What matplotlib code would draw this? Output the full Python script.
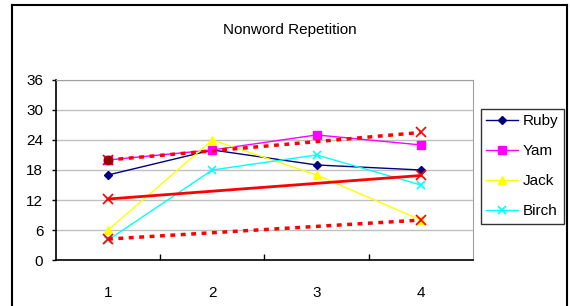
import matplotlib.pyplot as plt
from matplotlib.lines import Line2D

plt.rcParams['font.family'] = ['Liberation Sans', 'DejaVu Sans']

sessions = [1, 2, 3, 4]
ruby = [17, 22, 19, 18]
yam = [20, 22, 25, 23]
jack = [6, 24, 17, 8]
birch = [4, 18, 21, 15]

trend_x = [1, 4]
trend_mid = [12.2, 16.9]
trend_hi = [20, 25.5]
trend_lo = [4.2, 8]

fig = plt.figure(figsize=(5.7, 3.06), dpi=100)
ax = fig.add_axes([0.098, 0.150, 0.732, 0.589])

ax.plot(sessions, ruby, color='#000080', lw=1, marker='D', ms=4.5, label='Ruby')
ax.plot(sessions, yam, color='#FF00FF', lw=1, marker='s', ms=5.5, label='Yam')
ax.plot(sessions, jack, color='#FFFF00', lw=1, marker='^', ms=6, label='Jack')
ax.plot(sessions, birch, color='#00FFFF', lw=1, marker='x', ms=6, mew=1.2, label='Birch')

ax.plot(trend_x, trend_mid, color='#FF0000', lw=2, marker='x', ms=7, mew=1.2)
ax.plot(trend_x, trend_hi, color='#FF0000', lw=2.5, ls=(0, (1.4, 1.6)), marker='x', ms=7, mew=1.2)
ax.plot(trend_x[:1], trend_hi[:1], 'o', color='#990000', ms=6)
ax.plot(trend_x, trend_lo, color='#FF0000', lw=2.5, ls=(0, (1.4, 1.6)), marker='x', ms=7, mew=1.2)

ax.set_xlim(0.5, 4.5)
ax.set_ylim(0, 36)
ax.set_yticks(range(0, 37, 6))
ax.set_xticks(sessions)
ax.set_xticks([1.5, 2.5, 3.5], minor=True)
ax.tick_params(axis='x', which='major', length=0, pad=19, labelsize=11)
ax.tick_params(axis='x', which='minor', direction='in', length=4, width=1)
ax.tick_params(axis='y', length=3, width=1, labelsize=11, pad=6)
ax.yaxis.grid(True, color='#C0C0C0', lw=1)
ax.set_axisbelow(True)
for side in ['top', 'right']:
    ax.spines[side].set_color('#A0A0A0')
for side in ['left', 'bottom']:
    ax.spines[side].set_color('black')
    ax.spines[side].set_linewidth(1.2)

fig.text(0.509, 0.902, 'Nonword Repetition', ha='center', va='center', fontsize=11)

leg = ax.legend(loc='upper left', bbox_to_anchor=(1.019, 0.839), fontsize=11,
                frameon=True, fancybox=False, edgecolor='black',
                borderpad=0.35, labelspacing=1.05, handlelength=2.1, handletextpad=0.3,
                borderaxespad=0)
leg.get_frame().set_linewidth(1)

# outer chart border
fig.add_artist(Line2D([0.021, 0.995], [0.984, 0.984], color='black', lw=1.5))
fig.add_artist(Line2D([0.021, 0.021], [0.0, 0.984], color='black', lw=1.5))
fig.add_artist(Line2D([0.995, 0.995], [0.0, 0.984], color='black', lw=1.5))

fig.savefig('out.png', dpi=100)
